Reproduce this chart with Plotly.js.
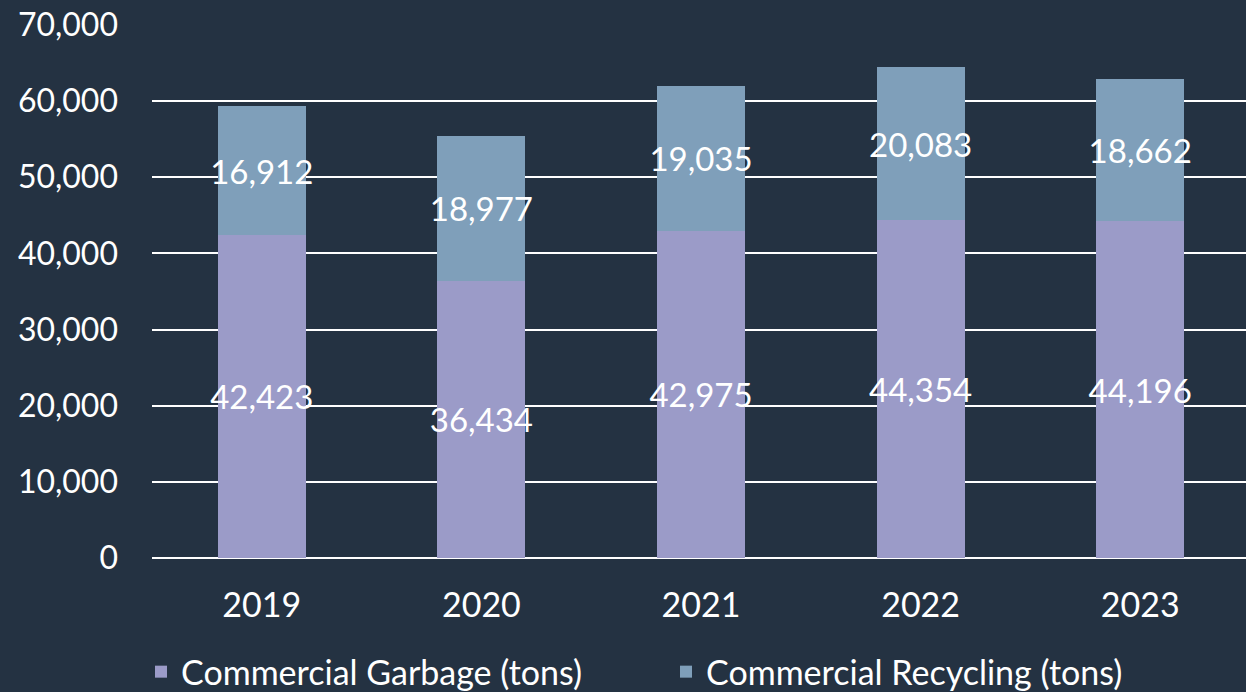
<!DOCTYPE html>
<html><head><meta charset="utf-8">
<script src="https://cdn.plot.ly/plotly-3.0.1.min.js"></script>
<style>html,body{margin:0;padding:0;background:#243242;overflow:hidden;}</style>
</head><body><div id="chart" style="width:1250px;height:692px;"></div>
<script>
const years = ['2019','2020','2021','2022','2023'];
const garbage = [42423, 36434, 42975, 44354, 44196];
const recycling = [16912, 18977, 19035, 20083, 18662];
const seriesNames = ['Commercial Garbage (tons)', 'Commercial Recycling (tons)'];
const fmt = v => v.toLocaleString('en-US');
const font = 'Lato, "Open Sans", sans-serif';
const traces = [
  {type:'bar', name:seriesNames[0], x:years, y:garbage, text:garbage.map(fmt),
   marker:{color:'#9b9bc8', line:{width:0}}},
  {type:'bar', name:seriesNames[1], x:years, y:recycling, text:recycling.map(fmt),
   marker:{color:'#7f9fba', line:{width:0}}}
].map(t => Object.assign(t, {textposition:'inside', insidetextanchor:'middle', constraintext:'none', textangle:0,
   textfont:{family:font, size:33, color:'#ffffff'}, hoverinfo:'skip', cliponaxis:false}));
const layout = {
  width:1250, height:692, paper_bgcolor:'#243242', plot_bgcolor:'#243242',
  barmode:'stack', bargap:0.6,
  margin:{l:152, r:0, t:25, b:134, autoexpand:false},
  font:{family:font, color:'#ffffff', size:32},
  xaxis:{type:'category', showgrid:false, zeroline:false, showline:false, ticks:'', automargin:false,
         tickfont:{size:34, color:'#ffffff'}, ticklabelstandoff:24},
  yaxis:{range:[0,70000], dtick:10000, tickformat:',d', showgrid:true, gridcolor:'#ffffff', gridwidth:2,
         zeroline:true, zerolinecolor:'#ffffff', zerolinewidth:2, showline:false, ticks:'', automargin:false,
         tickfont:{size:32, color:'#ffffff'}, ticklabelstandoff:33},
  showlegend:true,
  legend:{orientation:'h', x:-0.01, xanchor:'left', y:-0.214, yanchor:'middle',
          font:{size:34, color:'#ffffff'}, entrywidth:480, itemwidth:30, traceorder:'normal'}
};
Plotly.newPlot('chart', traces, layout, {displayModeBar:false, staticPlot:true});
</script></body></html>
